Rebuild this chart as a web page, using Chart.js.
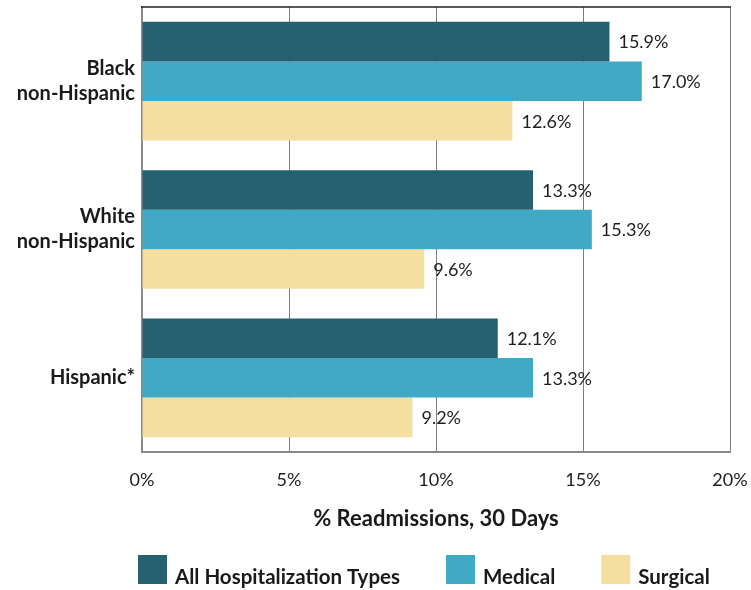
<!DOCTYPE html>
<html>
<head>
<meta charset="utf-8">
<script src="https://cdn.jsdelivr.net/npm/chart.js@4.4.1/dist/chart.umd.min.js"></script>
<style>
  html, body { margin: 0; padding: 0; background: #ffffff; }
  #wrap { width: 751px; height: 590px; position: relative; }
</style>
</head>
<body>
<div id="wrap"><canvas id="chart" width="751" height="590"></canvas></div>
<script>
// Groups shown down the vertical axis
const groups = [['Black', 'non-Hispanic'], ['White', 'non-Hispanic'], ['Hispanic*']];

// 30-day readmission rates (%) by hospitalization type
const allTypes = [15.9, 13.3, 12.1];
const medical  = [17.0, 15.3, 13.3];
const surgical = [12.6, 9.6, 9.2];

const seriesNames = ['All Hospitalization Types', 'Medical', 'Surgical'];
const seriesColors = ['#256170', '#40a9c6', '#f4dfa0'];

const axisTitle = '% Readmissions, 30 Days';
const xTicks = [0, 5, 10, 15, 20];

const FONT = 'Lato, "Open Sans", sans-serif';

// Writes each bar's value just past its end
const valueLabels = {
  id: 'valueLabels',
  afterDatasetsDraw(chart) {
    const ctx = chart.ctx;
    ctx.save();
    ctx.font = '18px ' + FONT;
    ctx.fillStyle = '#1e1e1e';
    ctx.textAlign = 'left';
    ctx.textBaseline = 'middle';
    chart.data.datasets.forEach((ds, i) => {
      chart.getDatasetMeta(i).data.forEach((bar, j) => {
        ctx.fillText(ds.data[j].toFixed(1) + '%', bar.x + 9, bar.y + 1);
      });
    });
    ctx.restore();
  }
};

// Dark rule along the top of the plot area
const topRule = {
  id: 'topRule',
  afterDraw(chart) {
    const { ctx, chartArea } = chart;
    ctx.save();
    ctx.strokeStyle = '#222';
    ctx.lineWidth = 1.5;
    ctx.beginPath();
    ctx.moveTo(chartArea.left - 1, chartArea.top);
    ctx.lineTo(chartArea.right + 1, chartArea.top);
    ctx.stroke();
    ctx.restore();
  }
};

// Legend row under the axis title: square swatch then bold name
const swatchLegend = {
  id: 'swatchLegend',
  afterDraw(chart) {
    const ctx = chart.ctx;
    const box = 29;
    const top = 555;
    let x = 138;
    ctx.save();
    ctx.font = 'bold 20.5px ' + FONT;
    ctx.textAlign = 'left';
    ctx.textBaseline = 'alphabetic';
    chart.data.datasets.forEach((ds) => {
      ctx.fillStyle = ds.backgroundColor;
      ctx.fillRect(x, top, box, box);
      ctx.fillStyle = '#1a1a1a';
      const tx = x + box + 8;
      ctx.fillText(ds.label, tx, top + box);
      x = tx + ctx.measureText(ds.label).width + 46;
    });
    ctx.restore();
  }
};

new Chart(document.getElementById('chart'), {
  type: 'bar',
  data: {
    labels: groups,
    datasets: [
      { label: seriesNames[0], data: allTypes, backgroundColor: seriesColors[0] },
      { label: seriesNames[1], data: medical,  backgroundColor: seriesColors[1] },
      { label: seriesNames[2], data: surgical, backgroundColor: seriesColors[2] }
    ]
  },
  options: {
    indexAxis: 'y',
    responsive: false,
    animation: false,
    devicePixelRatio: 1,
    layout: { padding: { top: 7, right: 21, bottom: 58, left: 0 } },
    datasets: { bar: { categoryPercentage: 0.8, barPercentage: 1.0, borderWidth: 0 } },
    plugins: {
      legend: { display: false },
      tooltip: { enabled: false }
    },
    scales: {
      x: {
        min: xTicks[0],
        max: xTicks[xTicks.length - 1],
        afterBuildTicks(scale) { scale.ticks = xTicks.map(v => ({ value: v })); },
        afterFit(scale) {
          scale.height = 80;
          scale.paddingLeft = 0;
          scale.paddingRight = 0;
        },
        grid: { color: '#7d7d7d', lineWidth: 1, drawTicks: false },
        border: { display: true, color: '#8a8a8a', width: 2 },
        ticks: {
          padding: 17.5,
          color: '#1e1e1e',
          font: { family: FONT, size: 18, lineHeight: 1.2 },
          callback: (v) => v + '%'
        },
        title: {
          display: true,
          text: axisTitle,
          color: '#1a1a1a',
          font: { family: FONT, size: 22, weight: 'bold', lineHeight: 1.2 },
          padding: { top: 0, bottom: 0 }
        }
      },
      y: {
        grid: { display: false, drawTicks: false },
        border: { display: true, color: '#8a8a8a', width: 2 },
        afterFit(scale) { scale.width = 142; scale.paddingTop = 0; scale.paddingBottom = 0; },
        ticks: {
          padding: 7,
          color: '#1a1a1a',
          font: { family: FONT, size: 20, weight: 'bold', lineHeight: 1.25 }
        }
      }
    }
  },
  plugins: [valueLabels, topRule, swatchLegend]
});
</script>
</body>
</html>
